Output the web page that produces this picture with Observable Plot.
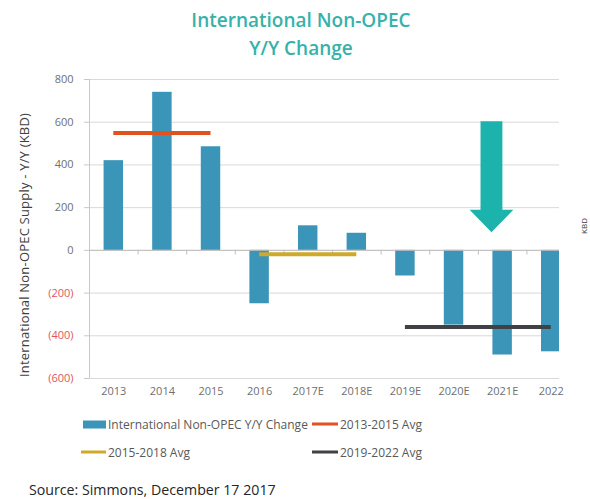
<!DOCTYPE html>
<html>
<head>
<meta charset="utf-8">
<script src="https://cdn.jsdelivr.net/npm/d3@7"></script>
<script src="https://cdn.jsdelivr.net/npm/@observablehq/plot@0.6"></script>
<style>
  body { margin: 0; background: #fff; }
  #wrap { position: relative; width: 590px; height: 499px; overflow: hidden; font-family: "Open Sans", sans-serif; }
  #wrap svg { position: absolute; left: 0; top: 0; }
  .title { position: absolute; left: 0; width: 602px; text-align: center; color: #36b2ab; font-size: 19px; font-weight: 600; line-height: 28px; }
  .ytitle { position: absolute; left: 24px; top: 245px; transform: translate(-50%, -50%) rotate(-90deg); white-space: nowrap; font-size: 13px; letter-spacing: 0.2px; color: #404040; }
  .kbd { position: absolute; left: 583px; top: 226px; transform: translate(-50%, -50%) rotate(-90deg); font-size: 8px; color: #404040; }
  .leg { position: absolute; font-size: 12px; color: #595959; white-space: nowrap; display: flex; align-items: center; transform: translateY(-50%); }
  .sw { display: inline-block; margin-right: 2px; }
  .source { position: absolute; left: 29px; top: 480px; font-size: 14.2px; color: #262626; }
</style>
</head>
<body>
<div id="wrap"></div>
<script>
// ---- data ----
const categories = ["2013", "2014", "2015", "2016", "2017E", "2018E", "2019E", "2020E", "2021E", "2022"];
const yoyChange = [420, 740, 485, -250, 115, 80, -120, -350, -490, -475];
const avgNames = ["2013-2015 Avg", "2015-2018 Avg", "2019-2022 Avg"];
const avgValues = [550, -18, -359];
const avgFrom = ["2013", "2016", "2019E"];
const avgTo = ["2015", "2018E", "2022"];
const avgColors = ["#e0531f", "#cfa92a", "#3f4145"];
const yTicks = [-600, -400, -200, 0, 200, 400, 600, 800];
const barName = "International Non-OPEC Y/Y Change";
const barColor = "#3a95b8";
// arrow annotation (data units)
const arrowCategory = "2021E";
const arrowShift = -0.23;
const arrowTop = 605, arrowHeadBase = 190, arrowTip = 85;
const arrowShaftHalf = 0.225, arrowHeadHalf = 0.45;
const arrowColor = "#1db3ad";

// ---- derived tables ----
const idx = c => categories.indexOf(c);
const bars = categories.map((c, i) => ({i, c, v: yoyChange[i]}));
const avgs = avgNames.map((n, k) => ({n, v: avgValues[k], x1: idx(avgFrom[k]), x2: idx(avgTo[k]), color: avgColors[k]}));
const ax = idx(arrowCategory) + arrowShift;
const arrowPts = [
  [ax - arrowShaftHalf, arrowTop], [ax + arrowShaftHalf, arrowTop], [ax + arrowShaftHalf, arrowHeadBase],
  [ax + arrowHeadHalf, arrowHeadBase], [ax, arrowTip], [ax - arrowHeadHalf, arrowHeadBase],
  [ax - arrowShaftHalf, arrowHeadBase]
].map(([x, y]) => ({x, y}));
const boundaries = d3.range(0.5, categories.length - 0.5, 1);
const fmt = d => d < 0 ? `(${-d})` : `${d}`;

const chart = Plot.plot({
  width: 590, height: 410,
  marginLeft: 89, marginRight: 31, marginTop: 79, marginBottom: 32,
  style: {fontFamily: "Open Sans, sans-serif", fontSize: "11px", background: "transparent"},
  x: {type: "linear", domain: [-0.5, 9.17], axis: null},
  y: {type: "linear", domain: [-600, 800], axis: null},
  marks: [
    Plot.gridY(yTicks, {stroke: "#d9d9d9", strokeOpacity: 1}),
    Plot.ruleX([-0.5], {y1: -600, y2: 800, stroke: "#c8c8c8"}),
    Plot.rectY(bars, {x1: d => d.i - 0.2, x2: d => d.i + 0.2, y1: 0, y2: "v", fill: barColor, clip: true}),
    Plot.ruleY([0], {stroke: "#bfbfbf"}),
    Plot.ruleX(boundaries, {y1: 0, y2: -22, stroke: "#bfbfbf"}),
    Plot.ruleY(avgs, {y: "v", x1: "x1", x2: "x2", stroke: "color", strokeWidth: 4}),
    Plot.line(arrowPts, {x: "x", y: "y", fill: arrowColor, stroke: "none", curve: "linear-closed"}),
    Plot.axisY(yTicks.filter(d => d >= 0), {tickSize: 5, tickPadding: 11, tickFormat: fmt, stroke: "#c8c8c8", fill: "#6f6f6f", fontSize: 11}),
    Plot.axisY(yTicks.filter(d => d < 0), {tickSize: 5, tickPadding: 11, tickFormat: fmt, stroke: "#c8c8c8", fill: "#e05560", fontSize: 11}),
    Plot.axisX(d3.range(categories.length), {tickSize: 0, tickPadding: 9, tickFormat: i => categories[i], fill: "#6f6f6f", fontSize: 11, label: null})
  ]
});

const wrap = document.getElementById("wrap");
wrap.appendChild(chart);
wrap.insertAdjacentHTML("beforeend", `
  <div class="title" style="top:6px">International Non-OPEC</div>
  <div class="title" style="top:34px">Y/Y Change</div>
  <div class="ytitle">International Non-OPEC Supply - Y/Y (KBD)</div>
  <div class="kbd">KBD</div>
  <div class="leg" style="left:83px;top:424px"><span class="sw" style="width:23px;height:8px;background:${barColor}"></span>${barName}</div>
  <div class="leg" style="left:312px;top:424px"><span class="sw" style="width:26px;height:3px;background:${avgColors[0]}"></span>${avgNames[0]}</div>
  <div class="leg" style="left:81px;top:452px"><span class="sw" style="width:25px;height:3px;background:${avgColors[1]}"></span>${avgNames[1]}</div>
  <div class="leg" style="left:312px;top:452px"><span class="sw" style="width:26px;height:3px;background:${avgColors[2]}"></span>${avgNames[2]}</div>
  <div class="source">Source: Simmons, December 17 2017</div>
`);
</script>
</body>
</html>
